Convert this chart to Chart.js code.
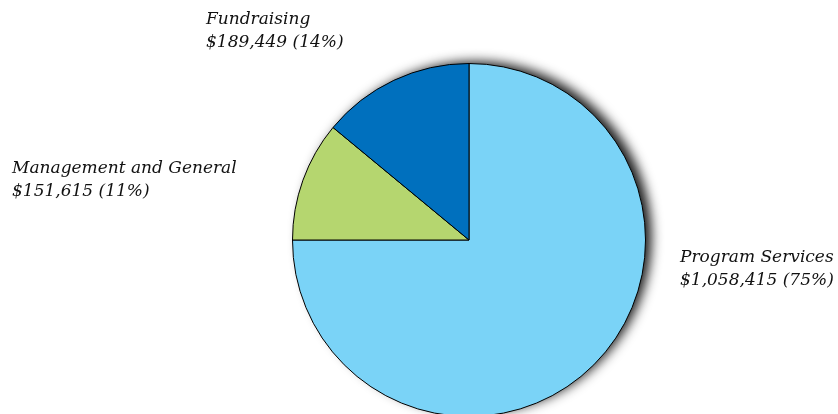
<!DOCTYPE html>
<html>
<head>
<meta charset="utf-8">
<script src="https://cdn.jsdelivr.net/npm/chart.js@4"></script>
<style>
  html, body { margin: 0; padding: 0; background: #fff; overflow: hidden; }
  #wrap { width: 838px; height: 440px; }
</style>
</head>
<body>
<div id="wrap"><canvas id="expenseChart" width="838" height="440"></canvas></div>
<script>
// expense breakdown
const categories = ['Program Services', 'Management and General', 'Fundraising'];
const amounts = [1058415, 151615, 189449];
const percents = [75, 11, 14];
const sliceColors = ['#7AD3F7', '#B5D66F', '#0070BE'];

// where each caption sits (left edge, first baseline)
const labelPos = [[680, 262], [12, 173], [206, 24]];

const fmtMoney = v => '$' + v.toLocaleString('en-US');

const shadowPlugin = {
  id: 'pieShadow',
  beforeDatasetsDraw: chart => {
    const arc = chart.getDatasetMeta(0).data[0];
    if (!arc) return;
    const ctx = chart.ctx;
    ctx.save();
    ctx.shadowColor = 'rgba(0,0,0,0.9)';
    ctx.shadowBlur = 12;
    ctx.shadowOffsetX = 7;
    ctx.shadowOffsetY = -3;
    ctx.fillStyle = '#000';
    ctx.beginPath();
    ctx.arc(arc.x, arc.y, arc.outerRadius - 1, 0, Math.PI * 2);
    ctx.fill();
    ctx.restore();
  }
};

const captionPlugin = {
  id: 'captions',
  afterDraw: chart => {
    const ctx = chart.ctx;
    ctx.save();
    ctx.fillStyle = '#111';
    ctx.font = 'italic 17px "DejaVu Serif", serif';
    ctx.textAlign = 'left';
    ctx.textBaseline = 'alphabetic';
    categories.forEach((name, i) => {
      const [x, y] = labelPos[i];
      ctx.fillText(name, x, y);
      ctx.fillText(fmtMoney(amounts[i]) + ' (' + percents[i] + '%)', x, y + 23);
    });
    ctx.restore();
  }
};

const ctx = document.getElementById('expenseChart');
const pie = new Chart(ctx, {
  type: 'pie',
  data: {
    labels: categories,
    datasets: [{
      data: percents,
      backgroundColor: sliceColors,
      borderColor: '#000',
      borderWidth: 1,
    }]
  },
  options: {
    responsive: false,
    animation: false,
    layout: {
      padding: { left: 292, right: 192, top: 63, bottom: 23 }
    },
    plugins: {
      legend: { display: false },
      tooltip: { enabled: false },
    }
  },
  plugins: [shadowPlugin, captionPlugin]
});
</script>
</body>
</html>
